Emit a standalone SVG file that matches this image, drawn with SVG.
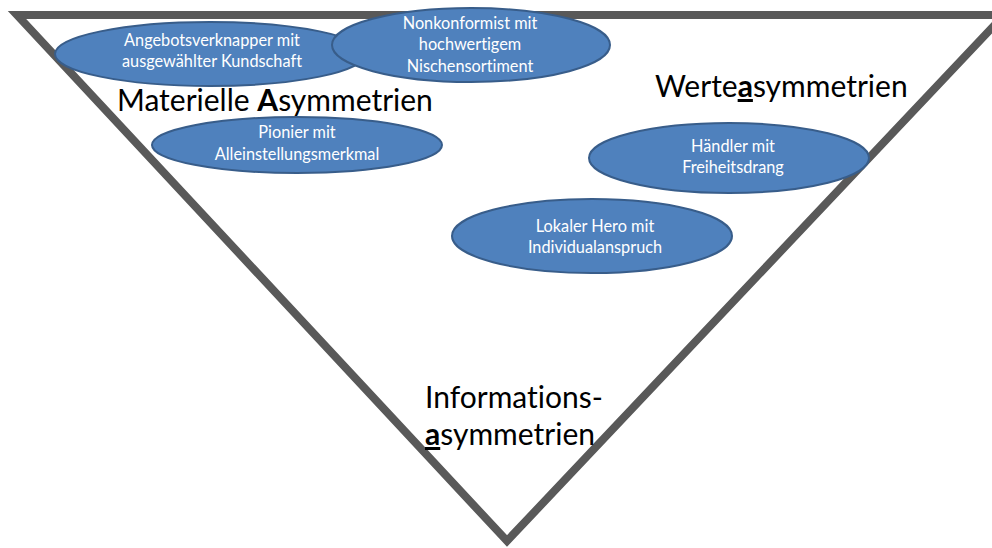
<svg xmlns="http://www.w3.org/2000/svg" width="992" height="548" viewBox="0 0 992 548">
<style>
text{font-variant-ligatures:none}
.tri{fill:none;stroke:#595959;stroke-width:8;stroke-linejoin:miter}
.node ellipse{fill:#4F81BD;stroke:#385D8A;stroke-width:2}
.node text{fill:#FFFFFF;font-family:Lato,"Open Sans",sans-serif;font-size:16.3px;text-anchor:middle}
.lbl{fill:#000000;font-family:Lato,"Open Sans",sans-serif;font-size:30px}
.b{font-weight:bold}
.u{font-weight:bold;text-decoration:underline}
</style>
<rect width="992" height="548" fill="#FFFFFF"/>
<g id="triangle">
<path class="tri" d="M17,15 L1004,15 L507,541 Z"/>
</g>
<g id="labels">
<text id="materielle" class="lbl" x="117" y="111">Materielle <tspan class="b">A</tspan>symmetrien</text>
<text id="werte" class="lbl" x="655" y="97">Werte<tspan class="u">a</tspan>symmetrien</text>
<text id="informations" class="lbl" x="425" y="408">Informations-<tspan x="425" dy="37"><tspan class="u">a</tspan>symmetrien</tspan></text>
</g>
<g id="n1" class="node">
<ellipse cx="210" cy="54" rx="155" ry="32"/>
<text x="212" y="46">Angebotsverknapper mit</text>
<text x="212" y="67">ausgewählter Kundschaft</text>
</g>
<g id="n2" class="node">
<ellipse cx="471" cy="45" rx="139" ry="37"/>
<text x="470" y="29">Nonkonformist mit</text>
<text x="470" y="50">hochwertigem</text>
<text x="470" y="72">Nischensortiment</text>
</g>
<g id="n3" class="node">
<ellipse cx="297" cy="145" rx="145" ry="28"/>
<text x="297" y="138">Pionier mit</text>
<text x="297" y="160">Alleinstellungsmerkmal</text>
</g>
<g id="n4" class="node">
<ellipse cx="729" cy="158" rx="140" ry="35"/>
<text x="733" y="152">Händler mit</text>
<text x="733" y="173">Freiheitsdrang</text>
</g>
<g id="n5" class="node">
<ellipse cx="592" cy="236" rx="140" ry="37"/>
<text x="595" y="232">Lokaler Hero mit</text>
<text x="595" y="253">Individualanspruch</text>
</g>
<g id="connectors"></g>
</svg>
